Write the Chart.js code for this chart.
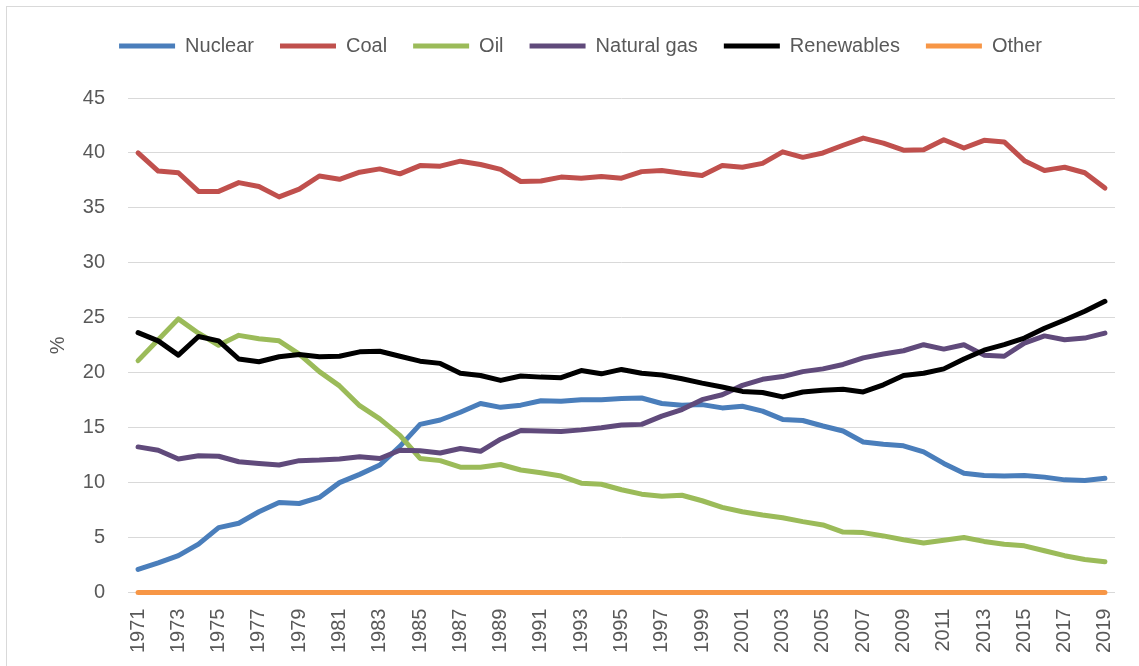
<!DOCTYPE html>
<html>
<head>
<meta charset="utf-8">
<script src="https://cdn.jsdelivr.net/npm/chart.js@4.4.1/dist/chart.umd.min.js"></script>
<style>
    html, body { margin: 0; padding: 0; background: #fff; overflow: hidden; }
    .frame { position: absolute; left: 6px; top: 6px; width: 1200px; height: 800px; border: 1px solid #d9d9d9; }
    .wrap { position: absolute; left: 0; top: 0; width: 1139px; height: 666px; }
</style>
</head>
<body>
<div class="frame"></div>
<div class="wrap"><canvas id="mixChart"></canvas></div>
<script>
// 年份
const years = [];
for (let y = 1971; y <= 2019; y++) years.push(String(y));

// 各能源占比 (%)
const nuclear = [2.1, 2.7, 3.35, 4.4, 5.9, 6.3, 7.35, 8.2, 8.1, 8.65,
    10.0, 10.75, 11.6, 13.3, 15.3, 15.7, 16.4, 17.2, 16.85, 17.05,
    17.45, 17.4, 17.55, 17.55, 17.65, 17.7, 17.2, 17.05, 17.1, 16.8,
    16.95, 16.5, 15.75, 15.65, 15.15, 14.7, 13.7, 13.5, 13.35, 12.8,
    11.75, 10.85, 10.65, 10.6, 10.65, 10.5, 10.25, 10.2, 10.4];
const coal = [40.0, 38.35, 38.2, 36.5, 36.5, 37.3, 36.95, 36.0, 36.7, 37.9,
    37.6, 38.25, 38.55, 38.1, 38.85, 38.8, 39.25, 38.95, 38.5, 37.4,
    37.45, 37.8, 37.7, 37.85, 37.7, 38.3, 38.4, 38.15, 37.95, 38.85,
    38.7, 39.05, 40.1, 39.6, 40.0, 40.7, 41.35, 40.9, 40.25, 40.3,
    41.2, 40.45, 41.15, 41.0, 39.3, 38.4, 38.7, 38.2, 36.8];
const oil = [21.1, 23.0, 24.9, 23.6, 22.5, 23.4, 23.1, 22.9, 21.7, 20.1,
    18.8, 17.0, 15.8, 14.3, 12.2, 12.0, 11.4, 11.4, 11.65, 11.15,
    10.9, 10.6, 9.95, 9.85, 9.35, 8.95, 8.75, 8.85, 8.35, 7.75,
    7.35, 7.05, 6.8, 6.45, 6.15, 5.5, 5.45, 5.15, 4.8, 4.5,
    4.75, 5.0, 4.65, 4.4, 4.25, 3.8, 3.35, 3.0, 2.8];
const naturalGas = [13.25, 12.95, 12.15, 12.45, 12.4, 11.9, 11.75, 11.6, 12.0, 12.05,
    12.15, 12.35, 12.2, 12.95, 12.9, 12.7, 13.1, 12.85, 13.95, 14.75,
    14.7, 14.65, 14.8, 15.0, 15.25, 15.3, 16.05, 16.65, 17.55, 18.0,
    18.85, 19.4, 19.65, 20.1, 20.35, 20.75, 21.35, 21.7, 22.0, 22.55,
    22.15, 22.55, 21.6, 21.5, 22.7, 23.35, 23.0, 23.15, 23.6];
const renewables = [23.65, 22.9, 21.6, 23.3, 22.9, 21.25, 21.0, 21.45, 21.65, 21.45,
    21.5, 21.9, 21.95, 21.5, 21.05, 20.85, 19.95, 19.75, 19.3, 19.7,
    19.6, 19.55, 20.2, 19.9, 20.3, 19.95, 19.8, 19.45, 19.05, 18.7,
    18.3, 18.2, 17.8, 18.25, 18.4, 18.5, 18.25, 18.9, 19.75, 19.95,
    20.35, 21.25, 22.05, 22.55, 23.15, 24.05, 24.8, 25.6, 26.5];
const other = [0, 0, 0, 0, 0, 0, 0, 0, 0, 0,
    0, 0, 0, 0, 0, 0, 0, 0, 0, 0,
    0, 0, 0, 0, 0, 0, 0, 0, 0, 0,
    0, 0, 0, 0, 0, 0, 0, 0, 0, 0,
    0, 0, 0, 0, 0, 0, 0, 0, 0];

const seriesNames = ['Nuclear', 'Coal', 'Oil', 'Natural gas', 'Renewables', 'Other'];
const seriesData = [nuclear, coal, oil, naturalGas, renewables, other];
const seriesColors = ['#4a7ebb', '#c0504d', '#9bbb59', '#604a7b', '#000000', '#f79646'];

const yTicks = [0, 5, 10, 15, 20, 25, 30, 35, 40, 45];

const textColor = '#595959';
const fontFamily = "'Liberation Sans', Arial, sans-serif";

// 图例下方留白
const legendGap = {
    id: 'legendGap',
    beforeInit(chart) {
        const fit = chart.legend.fit;
        chart.legend.fit = function () {
            fit.bind(chart.legend)();
            this.height += 32;
        };
    }
};

const ctx = document.getElementById('mixChart').getContext('2d');
new Chart(ctx, {
    type: 'line',
    data: {
        labels: years,
        datasets: seriesNames.map((name, i) => ({
            label: name,
            data: seriesData[i],
            borderColor: seriesColors[i],
            backgroundColor: seriesColors[i],
            borderWidth: 5,
            borderCapStyle: 'round',
            borderJoinStyle: 'round',
            tension: 0,
            pointRadius: 0,
            pointHoverRadius: 0,
            fill: false,
            clip: false,
            order: seriesNames.length - i
        }))
    },
    options: {
        responsive: true,
        maintainAspectRatio: false,
        animation: false,
        layout: { padding: { left: 46, right: 24, top: 10, bottom: -3 } },
        plugins: {
            legend: {
                position: 'top',
                labels: {
                    usePointStyle: true,
                    pointStyle: 'line',
                    pointStyleWidth: 56,
                    boxWidth: 56,
                    padding: 26,
                    color: textColor,
                    font: { family: fontFamily, size: 20 },
                    sort: (a, b) => a.datasetIndex - b.datasetIndex
                }
            },
            tooltip: { enabled: false }
        },
        scales: {
            x: {
                offset: true,
                grid: { display: false, drawTicks: false },
                border: { display: false },
                afterFit: axis => { axis.paddingLeft = 0; axis.paddingRight = 0; },
                ticks: {
                    autoSkip: false,
                    minRotation: 90,
                    maxRotation: 90,
                    padding: 16,
                    color: textColor,
                    font: { family: fontFamily, size: 20 },
                    callback: function (v, i) { return i % 2 === 0 ? this.getLabelForValue(v) : ''; }
                }
            },
            y: {
                min: yTicks[0],
                max: yTicks[yTicks.length - 1],
                afterBuildTicks: axis => { axis.ticks = yTicks.map(v => ({ value: v })); },
                afterFit: axis => { axis.width = 82; },
                grid: { color: '#d9d9d9', lineWidth: 1, drawTicks: false },
                border: { display: false },
                ticks: {
                    padding: 23,
                    color: textColor,
                    font: { family: fontFamily, size: 20 }
                },
                title: {
                    display: true,
                    text: '%',
                    color: textColor,
                    font: { family: fontFamily, size: 20 },
                    padding: { top: 0, bottom: 13 }
                }
            }
        }
    },
    plugins: [legendGap]
});
</script>
</body>
</html>
